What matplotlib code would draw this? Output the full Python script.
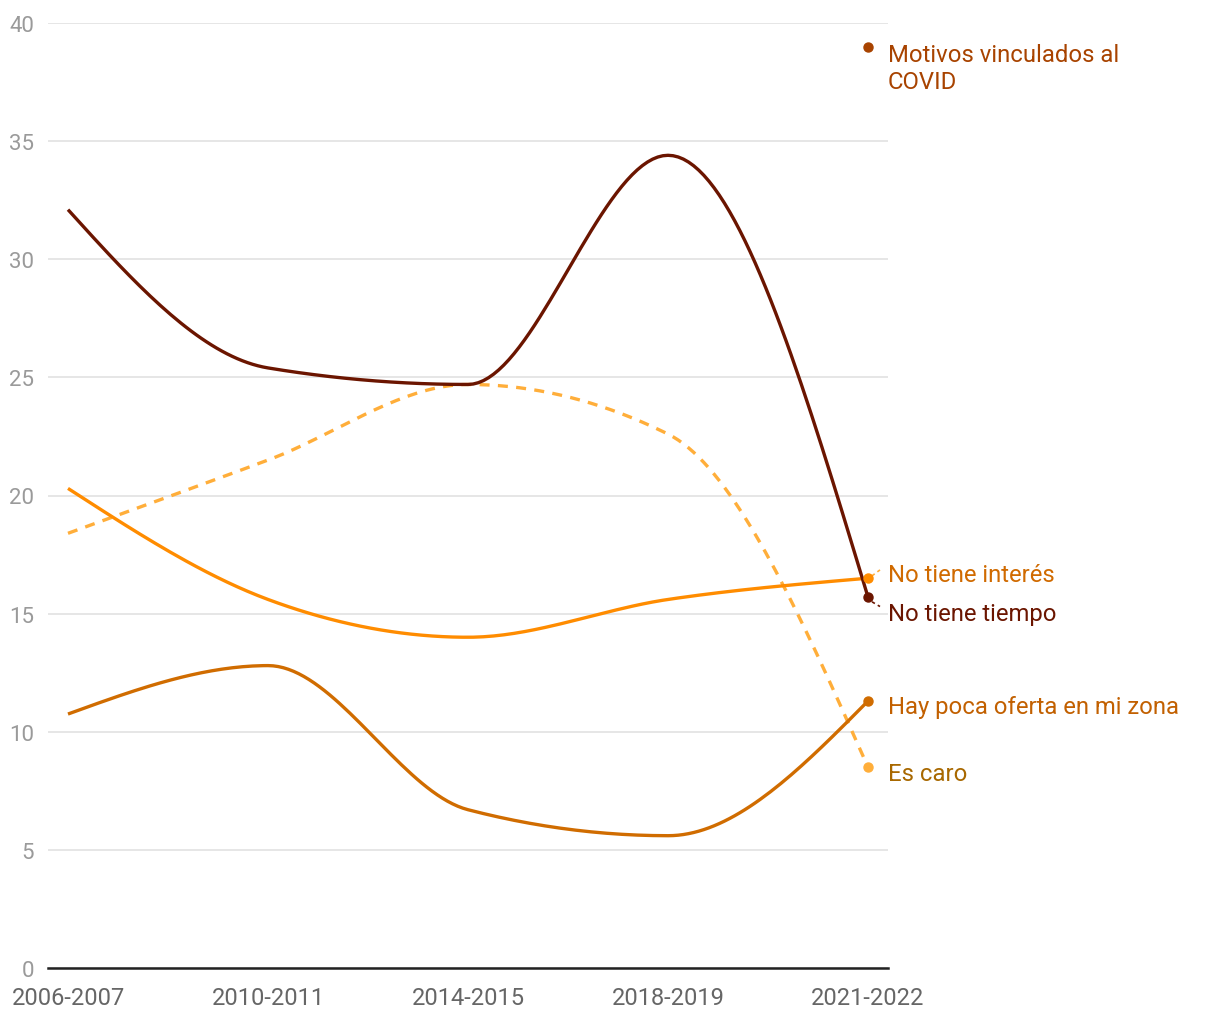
import numpy as np
import matplotlib.pyplot as plt

plt.rcParams['font.family'] = ['Roboto', 'DejaVu Sans']

periods = ["2006-2007", "2010-2011", "2014-2015", "2018-2019", "2021-2022"]

no_tiene_tiempo = [32.1, 25.4, 24.7, 34.4, 15.7]
no_tiene_interes = [20.3, 15.6, 14.0, 15.6, 16.5]
es_caro = [18.4, 21.5, 24.7, 22.6, 8.5]
poca_oferta = [10.75, 12.8, 6.7, 5.6, 11.3]
covid = 39.0


def monotone(x, y, n=40):
    # same shape as a monotone-x curve
    x = np.asarray(x, float)
    y = np.asarray(y, float)
    h = np.diff(x)
    s = np.diff(y) / h
    m = np.zeros_like(y)
    for i in range(1, len(y) - 1):
        p = (s[i - 1] * h[i] + s[i] * h[i - 1]) / (h[i - 1] + h[i])
        m[i] = (np.sign(s[i - 1]) + np.sign(s[i])) * min(abs(s[i - 1]), abs(s[i]), 0.5 * abs(p))
    m[0] = (3 * s[0] - m[1]) / 2
    m[-1] = (3 * s[-1] - m[-2]) / 2
    xs, ys = [], []
    for i in range(len(h)):
        t = np.linspace(0, 1, n)
        h00 = 2 * t**3 - 3 * t**2 + 1
        h10 = t**3 - 2 * t**2 + t
        h01 = -2 * t**3 + 3 * t**2
        h11 = t**3 - t**2
        xs.append(x[i] + t * h[i])
        ys.append(h00 * y[i] + h10 * h[i] * m[i] + h01 * y[i + 1] + h11 * h[i] * m[i + 1])
    return np.concatenate(xs), np.concatenate(ys)


fig = plt.figure(figsize=(12.2, 10.2), dpi=100)
ax = fig.add_axes([48 / 1220, 1 - 969 / 1020, 840 / 1220, 945 / 1020])

idx = np.arange(len(periods))

series = [
    (no_tiene_tiempo, "#6b1500", "-", "No tiene tiempo", "#6b1500", 15.0, 3),
    (no_tiene_interes, "#ff8c00", "-", "No tiene interés", "#d06a00", 16.65, 2),
    (es_caro, "#ffae3a", "--", "Es caro", "#a86800", 8.25, 1),
    (poca_oferta, "#d06c00", "-", "Hay poca oferta en mi zona", "#c26000", 11.05, 2),
]

for vals, color, ls, label, tcolor, ty, z in series:
    sx, sy = monotone(idx, vals)
    ax.plot(sx, sy, color=color, lw=2.4, ls=ls, dashes=(3, 2.5) if ls == "--" else (None, None),
            zorder=z, solid_capstyle='butt')
    ax.plot(idx[-1], vals[-1], 'o', color=color, ms=6.5, zorder=z + 1)
    ax.text(4.1, ty, label, color=tcolor, fontsize=17.2, va='center', ha='left', clip_on=False)

ax.plot(4, covid, 'o', color="#a84300", ms=6.5)
ax.text(4.1, covid - 0.9, "Motivos vinculados al\nCOVID", color="#a84300", fontsize=17.2,
        va='center', ha='left', linespacing=1.25, clip_on=False)

# short leader lines
ax.plot([4.02, 4.06], [16.6, 16.85], color="#ffae3a", lw=1.2, ls=(0, (2, 2)), clip_on=False)
ax.plot([4.02, 4.06], [15.5, 15.3], color="#6b1500", lw=1.2, ls=(0, (2, 2)), clip_on=False)

ax.set_xlim(-0.1, 4.1)
ax.set_ylim(0, 40)
ax.set_yticks(range(0, 41, 5))
ax.set_xticks(idx)
ax.set_xticklabels(periods)
ax.grid(axis='y', color='#e2e2e2', lw=1.2)
ax.set_axisbelow(True)
for sp in ['top', 'right', 'left']:
    ax.spines[sp].set_visible(False)
ax.spines['bottom'].set_color('#222222')
ax.spines['bottom'].set_linewidth(1.8)
ax.spines['bottom'].set_zorder(5)
ax.tick_params(axis='y', length=0, labelsize=16, labelcolor='#9a9a9a', pad=10)
ax.tick_params(axis='x', length=0, labelsize=17, labelcolor='#666666', pad=13)

fig.savefig("out.png", dpi=100)
